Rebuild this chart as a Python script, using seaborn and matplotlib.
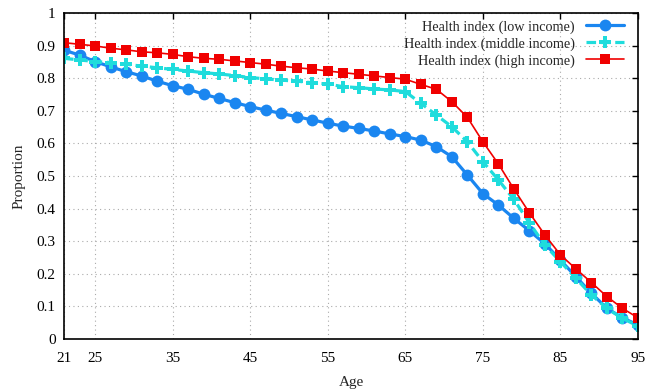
import numpy as np
import pandas as pd
import matplotlib
matplotlib.use("Agg")
import matplotlib.pyplot as plt
import seaborn as sns

ages = list(range(21, 96, 2))
low_income = [0.886, 0.871, 0.851, 0.835, 0.820, 0.807, 0.791, 0.777, 0.766, 0.751,
              0.738, 0.725, 0.713, 0.702, 0.692, 0.682, 0.672, 0.662, 0.653, 0.646,
              0.638, 0.629, 0.621, 0.610, 0.590, 0.559, 0.503, 0.446, 0.411, 0.370,
              0.332, 0.292, 0.242, 0.191, 0.140, 0.094, 0.065, 0.043]
middle_income = [0.861, 0.856, 0.851, 0.848, 0.843, 0.837, 0.832, 0.827, 0.822, 0.817,
                 0.813, 0.808, 0.802, 0.798, 0.794, 0.791, 0.786, 0.782, 0.774, 0.771,
                 0.767, 0.764, 0.759, 0.723, 0.687, 0.651, 0.605, 0.544, 0.488, 0.428,
                 0.356, 0.288, 0.237, 0.186, 0.135, 0.094, 0.063, 0.040]
high_income = [0.909, 0.904, 0.899, 0.892, 0.887, 0.881, 0.878, 0.873, 0.866, 0.861,
               0.858, 0.853, 0.848, 0.843, 0.837, 0.832, 0.828, 0.822, 0.817, 0.812,
               0.807, 0.802, 0.797, 0.781, 0.766, 0.728, 0.680, 0.605, 0.537, 0.460,
               0.387, 0.319, 0.258, 0.215, 0.173, 0.130, 0.094, 0.065]
labels = ["Health index (low income)", "Health index (middle income)", "Health index (high income)"]
xticks = [21, 25, 35, 45, 55, 65, 75, 85, 95]
yticks = [0, 0.1, 0.2, 0.3, 0.4, 0.5, 0.6, 0.7, 0.8, 0.9, 1]
ytick_labels = ["0", "0.1", "0.2", "0.3", "0.4", "0.5", "0.6", "0.7", "0.8", "0.9", "1"]

sns.set_style("white")
plt.rcParams['font.family'] = ['Liberation Serif', 'DejaVu Serif']

fig = plt.figure(figsize=(6.47, 3.92), dpi=100)
ax = fig.add_axes([64/647, 1 - 339/392, (638-64)/647, (339-13)/392])

sns.lineplot(x=ages, y=low_income, ax=ax, color="#1a86f0", linewidth=2.3,
             marker="o", markersize=8.5, markeredgewidth=0, label=labels[0])
sns.lineplot(x=ages, y=middle_income, ax=ax, color="#1fdcdc", linewidth=2.3,
             linestyle=(0, (3, 1.5)), marker="P", markersize=9, markeredgewidth=0,
             label=labels[1])
sns.lineplot(x=ages, y=high_income, ax=ax, color="#f00000", linewidth=1.2,
             marker="s", markersize=7, markeredgewidth=0, label=labels[2])

ax.set_xlim(21, 95)
ax.set_ylim(0, 1)
ax.set_xticks(xticks)
ax.set_xticklabels([str(t) for t in xticks], fontsize=11)
ax.set_yticks(yticks)
ax.set_yticklabels(ytick_labels, fontsize=11)
ax.tick_params(direction="in", length=4, width=1, top=True, right=True,
               labeltop=False, labelright=False, colors="black")
ax.tick_params(axis="x", pad=9)
ax.tick_params(axis="y", pad=6)
ax.grid(True, linestyle=(0, (1, 3)), color="#aaaaaa", linewidth=0.8)
for s in ax.spines.values():
    s.set_visible(True)
    s.set_color("black")
    s.set_linewidth(1.2)

ax.set_xlabel("Age", fontsize=11, labelpad=8)
ax.set_ylabel("Proportion", fontsize=11, labelpad=8)

leg = ax.legend(loc="upper right", frameon=False, markerfirst=False, fontsize=10.3,
                handlelength=2.6, labelspacing=0.25, borderaxespad=0.0,
                handletextpad=0.8, bbox_to_anchor=(0.985, 0.996))

fig.savefig("out.png", dpi=100)
